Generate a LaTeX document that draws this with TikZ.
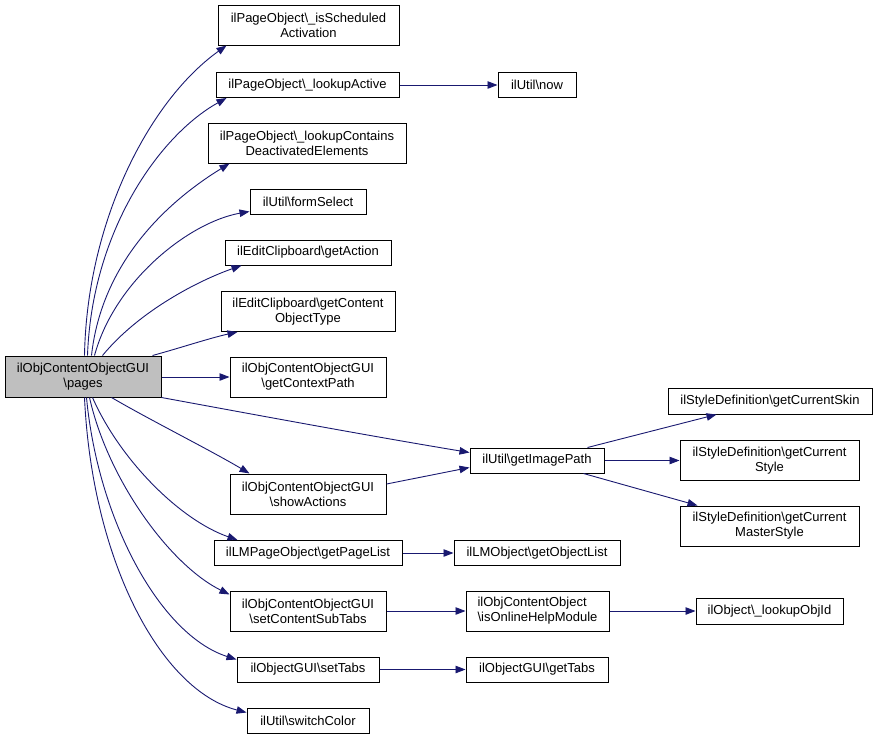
\documentclass[tikz,border=0pt]{standalone}
\usepackage{fontspec}
\setmainfont{Liberation Sans}
\usetikzlibrary{arrows.meta}
\definecolor{edgeblue}{HTML}{191970}
\definecolor{mainfill}{HTML}{BFBFBF}
\begin{document}
\begin{tikzpicture}[x=1pt,y=-1pt,
  box/.style={draw=black, line width=1pt, fill=white, inner sep=0pt, align=center,
    font=\fontsize{13}{15}\selectfont},
  mainbox/.style={box, fill=mainfill},
  edge/.style={draw=edgeblue, line width=0.9pt, -{Triangle[length=10pt,width=7.5pt]}},
]
\useasboundingbox (0,0) rectangle (877,739);
% nodes
\node[mainbox, minimum width=156pt, minimum height=41pt] (main) at (83,376.5) {ilObjContentObjectGUI\\\textbackslash pages};
\node[box, minimum width=181pt, minimum height=40pt] (isSched) at (308.5,25) {ilPageObject\textbackslash\_isScheduled\\Activation};
\node[box, minimum width=183pt, minimum height=25pt] (lookAct) at (307.5,85) {ilPageObject\textbackslash\_lookupActive};
\node[box, minimum width=198pt, minimum height=40pt] (lookCont) at (307,143) {ilPageObject\textbackslash\_lookupContains\\DeactivatedElements};
\node[box, minimum width=116pt, minimum height=25pt] (formSel) at (308,201.5) {ilUtil\textbackslash formSelect};
\node[box, minimum width=166pt, minimum height=25pt] (getAct) at (308,252.5) {ilEditClipboard\textbackslash getAction};
\node[box, minimum width=174pt, minimum height=40pt] (getCont) at (308,311.5) {ilEditClipboard\textbackslash getContent\\ObjectType};
\node[box, minimum width=156pt, minimum height=40pt] (ctxPath) at (308,377) {ilObjContentObjectGUI\\\textbackslash getContextPath};
\node[box, minimum width=156pt, minimum height=40pt] (showAct) at (308,494) {ilObjContentObjectGUI\\\textbackslash showActions};
\node[box, minimum width=188pt, minimum height=25pt] (pageList) at (308,553) {ilLMPageObject\textbackslash getPageList};
\node[box, minimum width=156pt, minimum height=40pt] (subTabs) at (308,611) {ilObjContentObjectGUI\\\textbackslash setContentSubTabs};
\node[box, minimum width=142pt, minimum height=25pt] (setTabs) at (308,669.5) {ilObjectGUI\textbackslash setTabs};
\node[box, minimum width=122pt, minimum height=25pt] (switchC) at (308,720.5) {ilUtil\textbackslash switchColor};
\node[box, minimum width=78pt, minimum height=25pt] (now) at (537,85) {ilUtil\textbackslash now};
\node[box, minimum width=134pt, minimum height=25pt] (imgPath) at (537,460.5) {ilUtil\textbackslash getImagePath};
\node[box, minimum width=166pt, minimum height=25pt] (objList) at (537,553) {ilLMObject\textbackslash getObjectList};
\node[box, minimum width=143pt, minimum height=40pt, align=left] (onlineHelp) at (537.5,611) {ilObjContentObject\\\textbackslash isOnlineHelpModule};
\node[box, minimum width=142pt, minimum height=25pt] (getTabs) at (537,669.5) {ilObjectGUI\textbackslash getTabs};
\node[box, minimum width=204pt, minimum height=26pt] (skin) at (770,401) {ilStyleDefinition\textbackslash getCurrentSkin};
\node[box, minimum width=179pt, minimum height=40pt] (style) at (769.5,460.5) {ilStyleDefinition\textbackslash getCurrent\\Style};
\node[box, minimum width=179pt, minimum height=40pt] (master) at (769.5,526) {ilStyleDefinition\textbackslash getCurrent\\MasterStyle};
\node[box, minimum width=147pt, minimum height=26pt] (objId) at (769.5,611) {ilObject\textbackslash\_lookupObjId};
% edges from main (top)
\draw[edge] ([xshift=80pt]main.north west) .. controls (87,220) and (150,100) .. ([xshift=9pt]isSched.south west);
\draw[edge] ([xshift=83pt]main.north west) .. controls (92,230) and (160,135) .. ([xshift=11pt]lookAct.south west);
\draw[edge] ([xshift=87pt]main.north west) .. controls (102,260) and (170,200) .. ([xshift=22pt]lookCont.south west);
\draw[edge] ([xshift=90pt]main.north west) .. controls (115,280) and (190,222) .. ([yshift=-10pt]formSel.west);
\draw[edge] ([xshift=98pt]main.north west) .. controls (140,310) and (200,280) .. ([xshift=17pt]getAct.south west);
\draw[edge] ([xshift=148pt]main.north west) .. controls (180,348) and (210,338) .. ([xshift=17pt]getCont.south west);
\draw[edge] (main.east |- ctxPath.west) -- (ctxPath.west);
% edges from main (bottom)
\draw[edge] (main.south east) .. controls (262,416) and (370,436) .. ([yshift=8pt]imgPath.west);
\draw[edge] ([xshift=107pt]main.south west) .. controls (150,420) and (210,450) .. ([xshift=20pt]showAct.north west);
\draw[edge] ([xshift=88pt]main.south west) .. controls (120,460) and (180,520) .. ([xshift=24pt]pageList.north west);
\draw[edge] ([xshift=85pt]main.south west) .. controls (108,480) and (170,565) .. ([yshift=-4pt]subTabs.north west);
\draw[edge] ([xshift=82pt]main.south west) .. controls (98,520) and (160,635) .. ([yshift=-3pt]setTabs.north west);
\draw[edge] ([xshift=80pt]main.south west) .. controls (92,560) and (160,690) .. ([yshift=-5pt]switchC.north west);
% other edges
\draw[edge] (lookAct.east) -- (now.west);
\draw[edge] ([yshift=10pt]showAct.east) -- ([yshift=-7pt]imgPath.west);
\draw[edge] ([xshift=-17pt]imgPath.north east) -- ([xshift=49pt]skin.south west);
\draw[edge] (imgPath.east) -- (style.west);
\draw[edge] ([xshift=-21pt]imgPath.south east) -- ([xshift=18pt]master.north west);
\draw[edge] (pageList.east) -- (objList.west);
\draw[edge] (subTabs.east) -- (onlineHelp.west);
\draw[edge] (onlineHelp.east) -- (objId.west);
\draw[edge] (setTabs.east) -- (getTabs.west);
\end{tikzpicture}
\end{document}
